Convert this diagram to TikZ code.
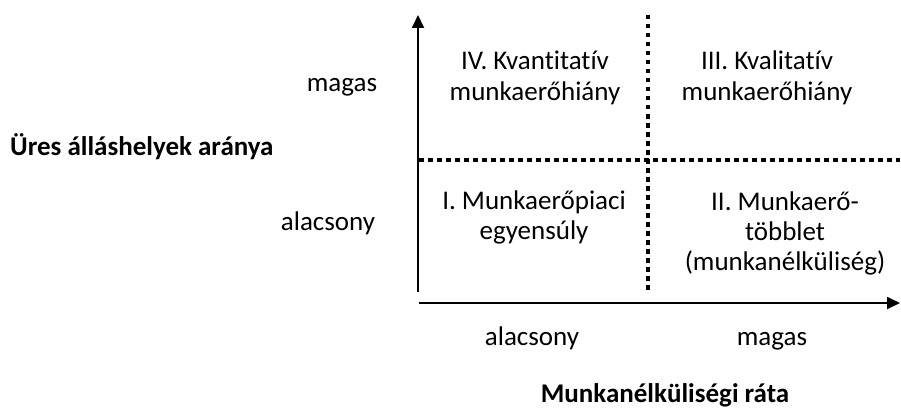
\documentclass[tikz,border=0pt]{standalone}
\usepackage{fontspec}
\setmainfont[Ligatures={NoCommon,NoDiscretionary,NoContextual}]{Carlito}
\usetikzlibrary{arrows.meta}
\tikzset{
  lbl/.style={font=\fontsize{27pt}{30pt}\selectfont, align=center, inner sep=0pt, anchor=base},
  blbl/.style={lbl, font=\fontsize{27pt}{30pt}\selectfont\bfseries},
  axis/.style={line width=1.8pt, -{Triangle[length=13pt,width=12pt]}},
  sep/.style={line width=3.5pt, dash pattern=on 4.5pt off 4.5pt}
}
\begin{document}
\begin{tikzpicture}[x=1pt,y=-1pt]
\useasboundingbox (0,0) rectangle (901,409);
% axes
\coordinate (yb) at (418,292);
\coordinate (yt) at (418,15);
\coordinate (xl) at (419,303);
\coordinate (xr) at (900,303);
\draw[axis] (yb) -- (yt);
\draw[axis] (xl) -- (xr);
% separators
\coordinate (vt) at (648,15);
\coordinate (vb) at (648,292);
\coordinate (hl) at (419,160);
\coordinate (hr) at (900,160);
\draw[sep] (vt) -- (vb);
\draw[sep] (hl) -- (hr);
% quadrant labels (anchor = baseline of last line)
\node[lbl] (q4) at (535,100) {IV. Kvantitatív\\munkaerőhiány};
\node[lbl] (q3) at (767,100) {III. Kvalitatív\\munkaerőhiány};
\node[lbl] (q1) at (534,239) {I. Munkaerőpiaci\\egyensúly};
\node[lbl] (q2) at (785,270) {II. Munkaerő-\\többlet\\(munkanélküliség)};
% axis labels
\node[lbl] (ym) at (342,92) {magas};
\node[lbl] (ya) at (328,230) {alacsony};
\node[blbl, anchor=base west] (ylab) at (10,155) {Üres álláshelyek aránya};
\node[lbl] (xa) at (532,345) {alacsony};
\node[lbl] (xm) at (772,345) {magas};
\node[blbl] (xlab) at (665,402) {Munkanélküliségi ráta};
\end{tikzpicture}
\end{document}
